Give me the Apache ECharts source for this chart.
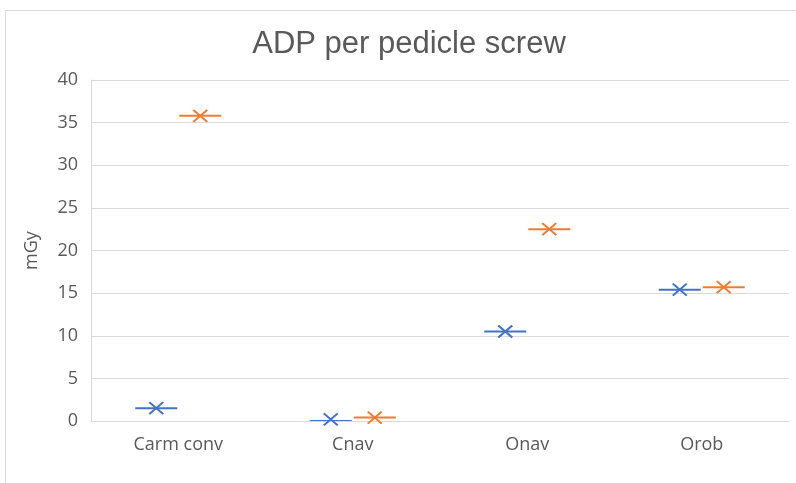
<!DOCTYPE html>
<html>
<head>
<meta charset="utf-8">
<script src="https://cdn.jsdelivr.net/npm/echarts@6/dist/echarts.min.js"></script>
<style>html,body{margin:0;padding:0;background:#fff;}#c{width:796px;height:483px;}</style>
</head>
<body>
<div id="c"></div>
<script>
var categories = ['Carm conv', 'Cnav', 'Onav', 'Orob'];
var seriesNames = ['Series A', 'Series B'];
var medianA = [1.5, 0, 10.5, 15.4];
var meanA = [1.5, 0.2, 10.5, 15.4];
var medianB = [35.8, 0.4, 22.5, 15.7];
var meanB = [35.8, 0.4, 22.5, 15.7];
var yTicks = [0, 5, 10, 15, 20, 25, 30, 35, 40];

var blue = '#4472C4', orange = '#ED7D31';
var xPath = 'path://M0,0L14,12M14,0L0,12';

function lineSeries(name, data, color, off) {
  return {
    name: name, type: 'scatter', data: data, z: -1,
    symbol: 'rect', symbolSize: [42, 2], symbolOffset: [off, 0],
    itemStyle: { color: color, opacity: 1 }, silent: true
  };
}
function meanSeries(name, data, color, off) {
  return {
    name: name, type: 'scatter', data: data, z: 4,
    symbol: xPath, symbolSize: [14, 12], symbolOffset: [off, 0],
    itemStyle: { color: 'rgba(0,0,0,0)', borderColor: color, borderWidth: 2, opacity: 1 }, silent: true
  };
}

var chart = echarts.init(document.getElementById('c'), null, { renderer: 'canvas' });
chart.setOption({
  animation: false,
  backgroundColor: '#fff',
  title: {
    text: 'ADP per pedicle screw', left: 404, top: 24, textAlign: 'center',
    textStyle: { fontFamily: 'Liberation Sans', fontSize: 31, fontWeight: 'normal', color: '#595959' }
  },
  graphic: [{
    type: 'rect', shape: { x: 5.5, y: 10.5, width: 820, height: 500 },
    style: { fill: 'none', stroke: '#d9d9d9', lineWidth: 1 }, silent: true
  }],
  grid: { left: 91, right: 7, top: 80, bottom: 62 },
  xAxis: {
    type: 'category', data: categories,
    axisLine: { lineStyle: { color: '#d9d9d9' } },
    axisTick: { show: false },
    axisLabel: { fontFamily: 'Open Sans', fontSize: 18, color: '#595959', margin: 15 },
    splitLine: { show: false }
  },
  yAxis: {
    type: 'value', min: yTicks[0], max: yTicks[yTicks.length - 1], interval: 5,
    name: 'mGy', nameLocation: 'middle', nameGap: 50, nameRotate: 90,
    nameTextStyle: { fontFamily: 'Open Sans', fontSize: 18, color: '#595959' },
    axisLine: { show: true, lineStyle: { color: '#d9d9d9' } },
    axisTick: { show: false },
    axisLabel: { fontFamily: 'Open Sans', fontSize: 18, color: '#595959', margin: 13 },
    splitLine: { lineStyle: { color: '#d9d9d9', width: 1 } }
  },
  series: [
    lineSeries(seriesNames[0], medianA, blue, -22),
    meanSeries(seriesNames[0], meanA, blue, -22),
    lineSeries(seriesNames[1], medianB, orange, 22),
    meanSeries(seriesNames[1], meanB, orange, 22)
  ]
});
</script>
</body>
</html>
